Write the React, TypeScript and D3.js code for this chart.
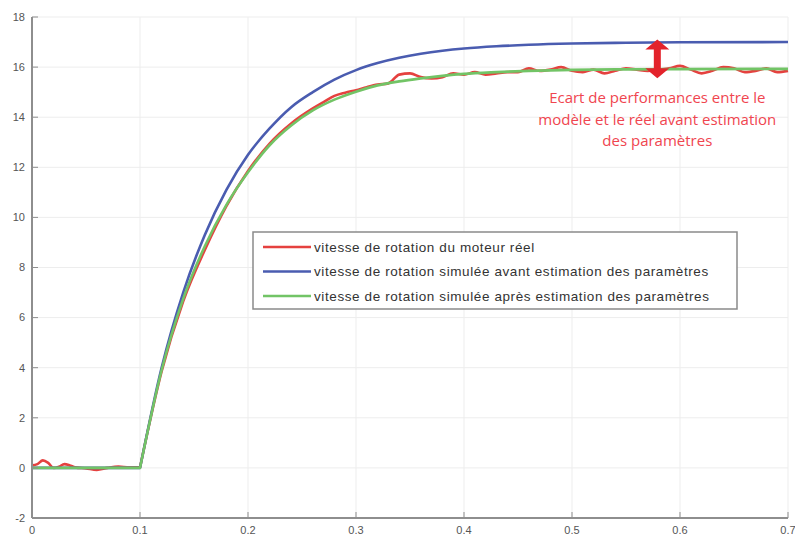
import * as d3 from 'd3'
import { FC, useMemo } from 'react'

const WIDTH = 795
const HEIGHT = 538
const MARGIN = { top: 17, right: 7, bottom: 20, left: 32 }

const X_TICKS = [0, 0.1, 0.2, 0.3, 0.4, 0.5, 0.6, 0.7]
const X_TICK_LABELS = ['0', '0.1', '0.2', '0.3', '0.4', '0.5', '0.6', '0.7']
const Y_TICKS = [-2, 0, 2, 4, 6, 8, 10, 12, 14, 16, 18]
const STEP_T = 0.1

// vitesse simulée avant estimation (bleu)
const BLUE_T = [0, 0.1, 0.12, 0.14, 0.16, 0.18, 0.2, 0.22, 0.24, 0.26, 0.28, 0.3, 0.32, 0.34, 0.36, 0.38, 0.4, 0.43, 0.46, 0.5, 0.55, 0.6, 0.7]
const BLUE_V = [0, 0, 4.0, 7.0, 9.3, 11.1, 12.5, 13.55, 14.4, 15.0, 15.5, 15.88, 16.16, 16.37, 16.53, 16.65, 16.74, 16.83, 16.89, 16.94, 16.97, 16.99, 17.0]

// vitesse simulée après estimation (vert)
const GREEN_T = [0, 0.1, 0.12, 0.14, 0.16, 0.18, 0.2, 0.22, 0.24, 0.26, 0.28, 0.3, 0.32, 0.34, 0.36, 0.38, 0.4, 0.43, 0.46, 0.5, 0.55, 0.6, 0.7]
const GREEN_V = [0, 0, 3.9, 6.75, 8.85, 10.5, 11.8, 12.88, 13.67, 14.27, 14.7, 15.02, 15.27, 15.43, 15.55, 15.65, 15.73, 15.8, 15.85, 15.89, 15.91, 15.92, 15.93]

// vitesse mesurée du moteur réel (rouge)
const RED_T = [0, 0.005, 0.01, 0.015, 0.02, 0.025, 0.03, 0.035, 0.04, 0.05, 0.06, 0.07, 0.08, 0.09, 0.1,
  0.12, 0.14, 0.16, 0.18, 0.2, 0.22, 0.24, 0.26, 0.27, 0.28, 0.29, 0.3,
  0.31, 0.32, 0.33, 0.34, 0.35, 0.36, 0.37, 0.38, 0.39, 0.4, 0.41, 0.42, 0.43, 0.44, 0.45,
  0.46, 0.47, 0.48, 0.49, 0.5, 0.51, 0.52, 0.53, 0.54, 0.55, 0.56, 0.57, 0.58, 0.59, 0.6,
  0.61, 0.62, 0.63, 0.64, 0.65, 0.66, 0.67, 0.68, 0.69, 0.7]
const RED_V = [0.1, 0.15, 0.3, 0.2, 0.0, 0.05, 0.15, 0.1, 0.02, -0.02, -0.08, 0.0, 0.05, 0.02, 0.02,
  3.85, 6.65, 8.7, 10.45, 11.85, 12.95, 13.75, 14.35, 14.6, 14.85, 14.98, 15.08,
  15.2, 15.3, 15.35, 15.7, 15.75, 15.6, 15.55, 15.6, 15.75, 15.7, 15.8, 15.7, 15.75, 15.8, 15.8,
  15.95, 15.85, 15.9, 16.0, 15.85, 15.8, 15.9, 15.75, 15.85, 15.95, 15.9, 15.85, 15.9, 15.95, 16.05,
  15.9, 15.75, 15.85, 16.0, 15.95, 15.8, 15.85, 15.95, 15.8, 15.85]

const SERIES = [
  { label: 'vitesse de rotation du moteur réel', color: '#e5413f', t: RED_T, v: RED_V },
  { label: 'vitesse de rotation simulée avant estimation des paramètres', color: '#4a5cb0', t: BLUE_T, v: BLUE_V },
  { label: 'vitesse de rotation simulée après estimation des paramètres', color: '#72c466', t: GREEN_T, v: GREEN_V },
]

const ARROW_T = 0.579
const ARROW_FROM = 15.55
const ARROW_TO = 17.1
const NOTE_LINES = [
  'Ecart de performances entre le',
  'modèle et le réel avant estimation',
  'des paramètres',
]

const App: FC = () => {
  const boundsWidth = WIDTH - MARGIN.left - MARGIN.right
  const boundsHeight = HEIGHT - MARGIN.top - MARGIN.bottom

  const xScale = useMemo(() => d3.scaleLinear().domain([0, 0.7]).range([0, boundsWidth]), [boundsWidth])
  const yScale = useMemo(() => d3.scaleLinear().domain([-2, 18]).range([boundsHeight, 0]), [boundsHeight])

  const lineGen = d3
    .line<[number, number]>()
    .x((d) => xScale(d[0]))
    .y((d) => yScale(d[1]))
    .curve(d3.curveMonotoneX)

  // the step at t=0.1 is a sharp corner: draw before/after as two joined pieces
  const buildPath = (t: number[], v: number[]) => {
    const pts = t.map((x, j) => [x, v[j]] as [number, number])
    const pre = pts.filter((p) => p[0] <= STEP_T)
    const post = pts.filter((p) => p[0] >= STEP_T)
    const a = lineGen(pre) as string
    const b = (lineGen(post) as string).replace(/^M/, 'L')
    return a + b
  }

  const paths = SERIES.map((s, i) => (
    <path
      key={ i }
      d={ buildPath(s.t, s.v) }
      fill='none'
      stroke={ s.color }
      strokeWidth={ 2.6 }
      strokeLinejoin='round'
    />
  ))

  const ax = xScale(ARROW_T)
  const ay1 = yScale(ARROW_TO)
  const ay2 = yScale(ARROW_FROM)
  const headH = 10
  const headW = 12
  const shaftW = 3.5
  const arrowPath = [
    `M${ax},${ay1}`,
    `L${ax + headW},${ay1 + headH}`,
    `L${ax + shaftW},${ay1 + headH}`,
    `L${ax + shaftW},${ay2 - headH}`,
    `L${ax + headW},${ay2 - headH}`,
    `L${ax},${ay2}`,
    `L${ax - headW},${ay2 - headH}`,
    `L${ax - shaftW},${ay2 - headH}`,
    `L${ax - shaftW},${ay1 + headH}`,
    `L${ax - headW},${ay1 + headH}`,
    'Z',
  ].join(' ')

  const legendX = 253 - MARGIN.left
  const legendY = 232 - MARGIN.top
  const legendW = 484
  const legendH = 77

  return (
    <div style={{ position: 'fixed', left: 0, top: 0 }}>
      <svg width={ WIDTH } height={ HEIGHT } style={{ display: 'block', background: '#fff' }}>
        <g transform={ `translate(${MARGIN.left},${MARGIN.top})` }>
          {/* grid */}
          { X_TICKS.map((t) => (
            <line key={ 'gx' + t } x1={ xScale(t) } x2={ xScale(t) } y1={ 0 } y2={ boundsHeight } stroke='#ededed' strokeWidth={ 1 } />
          )) }
          { Y_TICKS.map((v) => (
            <line key={ 'gy' + v } x1={ 0 } x2={ boundsWidth } y1={ yScale(v) } y2={ yScale(v) } stroke='#ededed' strokeWidth={ 1 } />
          )) }

          { paths }

          {/* axes */}
          <line x1={ 0 } x2={ 0 } y1={ 0 } y2={ boundsHeight } stroke='#8e8e8e' strokeWidth={ 2 } />
          <line x1={ 0 } x2={ boundsWidth } y1={ boundsHeight } y2={ boundsHeight } stroke='#8e8e8e' strokeWidth={ 2 } />
          { Y_TICKS.map((v) => (
            <g key={ 'ty' + v }>
              <line x1={ 0 } x2={ 6 } y1={ yScale(v) } y2={ yScale(v) } stroke='#8e8e8e' strokeWidth={ 1 } />
              <text x={ -7 } y={ yScale(v) } dy='0.35em' textAnchor='end' fontSize={ 11 } fill='#555' fontFamily='Liberation Sans, Arial, sans-serif'>
                { v }
              </text>
            </g>
          )) }
          { X_TICKS.map((t, i) => (
            <g key={ 'tx' + t }>
              <line x1={ xScale(t) } x2={ xScale(t) } y1={ boundsHeight } y2={ boundsHeight - 6 } stroke='#8e8e8e' strokeWidth={ 1 } />
              <text x={ xScale(t) } y={ boundsHeight + 16 } textAnchor='middle' fontSize={ 11 } fill='#555' fontFamily='Liberation Sans, Arial, sans-serif'>
                { X_TICK_LABELS[i] }
              </text>
            </g>
          )) }

          {/* legend */}
          <rect x={ legendX } y={ legendY } width={ legendW } height={ legendH } fill='#fff' stroke='#8a8a8a' strokeWidth={ 1.5 } />
          { SERIES.map((s, i) => (
            <g key={ 'lg' + i } transform={ `translate(${legendX + 10},${legendY + 15 + i * 24.5})` }>
              <line x1={ 0 } x2={ 48 } y1={ 0 } y2={ 0 } stroke={ s.color } strokeWidth={ 2.6 } />
              <text x={ 51 } y={ 0 } dy='0.35em' fontSize={ 13.5 } letterSpacing={ 0.6 } fill='#333' fontFamily='Liberation Sans, Arial, sans-serif'>
                { s.label }
              </text>
            </g>
          )) }

          {/* annotation */}
          <path d={ arrowPath } fill='#e3232b' />
          { NOTE_LINES.map((l, i) => (
            <text key={ 'n' + i } x={ ax } y={ 98 - MARGIN.top + i * 21.5 } dy='0.35em' textAnchor='middle' fontSize={ 15 } fill='#f0454f' fontFamily='Open Sans, sans-serif'>
              { l }
            </text>
          )) }
        </g>
      </svg>
    </div>
  )
}

export default App
